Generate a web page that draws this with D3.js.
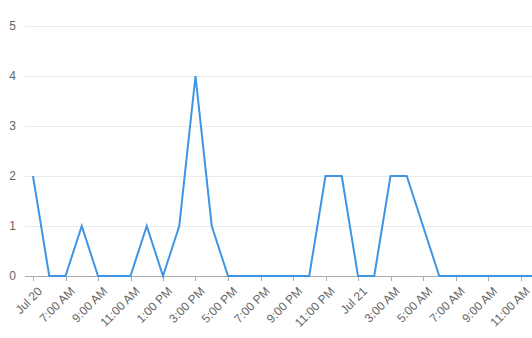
<!DOCTYPE html>
<html><head><meta charset="utf-8">
<script src="https://cdn.jsdelivr.net/npm/d3@7"></script>
<style>body{margin:0;background:#fff;}svg{display:block;font-family:Arial,"Liberation Sans",sans-serif;}</style>
</head><body>
<svg id="c" width="532" height="338"></svg>
<script>
// hourly values from Jul 20 05:00 to Jul 21 12:00
const startTime = new Date(2023, 6, 20, 5, 0);
const values = [2,0,0,1,0,0,0,1,0,1,4,1,0,0,0,0,0,0,2,2,0,0,2,2,1,0,0,0,0,0,0,0];
const yTicks = [0,1,2,3,4,5];
const xTickLabels = ["Jul 20","7:00 AM","9:00 AM","11:00 AM","1:00 PM","3:00 PM","5:00 PM","7:00 PM","9:00 PM","11:00 PM","Jul 21","3:00 AM","5:00 AM","7:00 AM","9:00 AM","11:00 AM"];

const data = values.map((v,i)=>({t:new Date(startTime.getTime()+i*3600e3), v}));
const xTicks = xTickLabels.map((l,i)=>new Date(startTime.getTime()+i*2*3600e3));

const svg = d3.select("#c");
const x = d3.scaleTime().domain([startTime, new Date(startTime.getTime()+31*3600e3)]).range([33, 33+31*16.25]);
const y = d3.scaleLinear().domain([0,5]).range([276,26]);

// gridlines
svg.append("g").selectAll("line").data(yTicks.filter(d=>d>0)).join("line")
  .attr("x1",25).attr("x2",532).attr("y1",d=>y(d)+0.5).attr("y2",d=>y(d)+0.5)
  .attr("stroke","#ebebeb").attr("stroke-width",1);

// y labels
svg.append("g").selectAll("text").data(yTicks).join("text")
  .attr("x",16).attr("y",d=>y(d)+4).attr("text-anchor","end")
  .attr("font-size",12).attr("fill","#666").text(d=>d);

// x axis baseline
svg.append("line").attr("x1",25).attr("x2",532).attr("y1",y(0)+0.5).attr("y2",y(0)+0.5)
  .attr("stroke","#aaa").attr("stroke-width",1);

// x ticks
const xg = svg.append("g");
xg.selectAll("line").data(xTicks).join("line")
  .attr("x1",d=>Math.round(x(d))+0.5).attr("x2",d=>Math.round(x(d))+0.5)
  .attr("y1",y(0)).attr("y2",y(0)+5).attr("stroke","#aaa");
xg.selectAll("text").data(xTicks).join("text")
  .attr("transform",(d)=>`translate(${x(d)+4},${y(0)+10}) rotate(-45)`)
  .attr("text-anchor","end").attr("dy","0.71em")
  .attr("font-size",12).attr("fill","#666")
  .text((d,i)=>xTickLabels[i]);

// line
svg.append("path").datum(data)
  .attr("fill","none").attr("stroke","#3d95e3").attr("stroke-width",2)
  .attr("stroke-linejoin","miter")
  .attr("d", d3.line().x(d=>x(d.t)).y(d=>y(d.v)));
</script>
</body></html>
